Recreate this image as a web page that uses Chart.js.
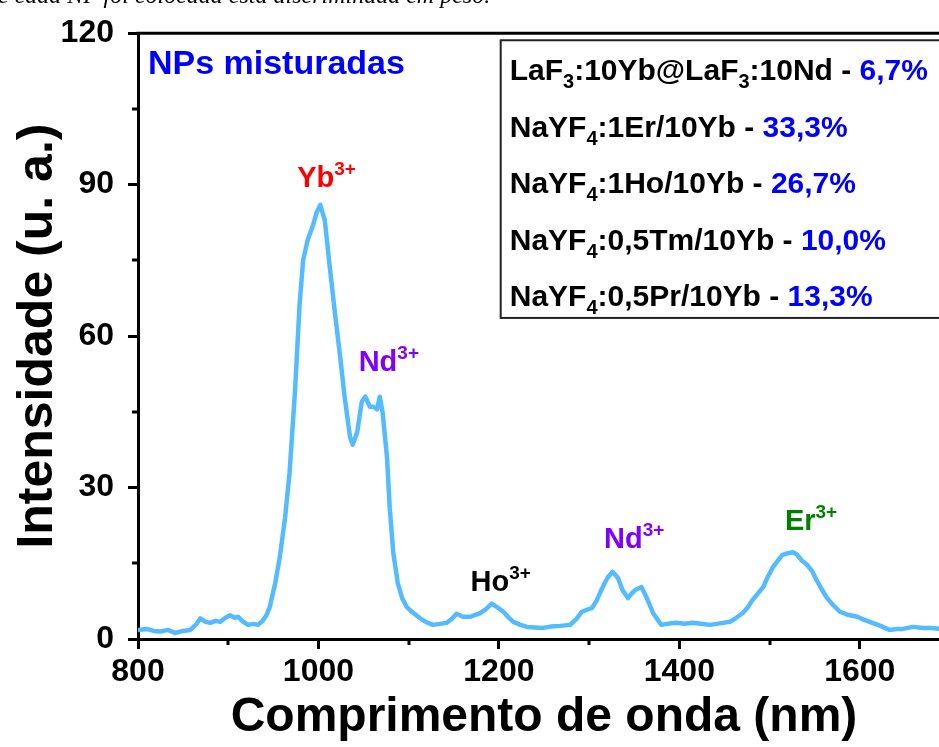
<!DOCTYPE html>
<html><head><meta charset="utf-8">
<script src="https://cdn.jsdelivr.net/npm/chart.js@4.4.1/dist/chart.umd.min.js"></script>
<style>
html,body{margin:0;padding:0;background:#fff;overflow:hidden;width:939px;height:747px;}
#wrap{position:relative;width:960px;height:747px;}
#cap{position:absolute;left:-2px;top:-18px;font:italic 24px "Liberation Serif","Times New Roman",serif;white-space:nowrap;color:#000;}
canvas{position:absolute;left:0;top:0;}
</style></head><body>
<div id="wrap"><canvas id="c" width="960" height="747"></canvas><div id="cap">e cada NP foi colocada está discriminada em peso.</div></div>
<script>
// ---- data ----
const wavelengths = [800,810,817,825,833,841,850,858,865,869,875,880,886,891,897,902,907,911,916,922,928,933,938,942,946,952,957,963,968,974,979,983,988,994,998,1002,1007,1013,1018,1024,1029,1035,1038,1043,1048,1052,1057,1061,1065,1068,1071,1076,1079,1083,1088,1093,1098,1103,1109,1115,1120,1127,1135,1142,1148,1153,1160,1168,1174,1179,1185,1192,1198,1205,1210,1216,1224,1231,1240,1249,1258,1268,1279,1286,1292,1298,1303,1308,1312,1317,1321,1326,1332,1337,1343,1347,1351,1358,1364,1371,1376,1380,1390,1397,1406,1415,1424,1434,1445,1456,1463,1470,1476,1481,1487,1493,1498,1504,1509,1514,1520,1526,1530,1536,1541,1547,1552,1558,1563,1570,1578,1587,1597,1605,1614,1623,1633,1641,1648,1659,1670,1680,1690,1700];
const intensity = [1.8,2.0,1.6,1.5,1.8,1.2,1.6,1.8,3.0,4.1,3.4,3.2,3.6,3.4,4.2,4.7,4.2,4.4,3.5,2.8,3.0,2.8,3.6,4.6,6.3,11,16,24,33,49,66,75,79,82,84.5,86,83,73,65,56,48,40,38.5,41,47,48,46,46,45.5,48,45,36,26,17,11,8,6.3,5.5,4.6,3.8,3.3,2.8,3.0,3.2,4.0,5.0,4.4,4.4,4.8,5.1,5.8,7.0,6.3,5.4,4.4,3.4,2.8,2.4,2.3,2.2,2.5,2.6,2.8,4.0,5.4,5.8,6.1,7.5,9.1,11,12.3,13.3,12.1,9.7,8.1,9.0,9.7,10.3,8.1,5.1,3.8,2.8,3.1,3.2,3.0,3.2,3.0,2.8,3.1,3.4,4.2,5.1,6.3,7.7,9.0,10.3,12.3,14.3,15.5,16.6,17.0,17.2,16.8,15.5,14.8,13.5,11.7,9.8,8.3,6.8,5.4,4.8,4.4,3.8,3.2,2.6,1.8,2.0,2.0,2.4,2.2,2.2,2.0,2.0];
const xMajorTicks = [800,1000,1200,1400,1600];
const xMinorTicks = [900,1100,1300,1500,1700];
const yMajorTicks = [0,30,60,90,120];
const yMinorTicks = [15,45,75,105];
const xTitle = 'Comprimento de onda (nm)';
const yTitle = 'Intensidade (u. a.)';
const panelTitle = 'NPs misturadas';
const peakIons = ['Yb','Nd','Ho','Nd','Er'];
const peakX = [1009,1078,1202,1350,1546];
const peakY = [89.5,53,9.5,18,21.6];
const peakColors = ['#ff0000','#8000ff','#000000','#8000ff','#008000'];
const legendRows = [
  [{t:'LaF'},{t:'3',sub:1},{t:':10Yb@LaF'},{t:'3',sub:1},{t:':10Nd - '},{t:'6,7%',c:'#0000ff'}],
  [{t:'NaYF'},{t:'4',sub:1},{t:':1Er/10Yb - '},{t:'33,3%',c:'#0000ff'}],
  [{t:'NaYF'},{t:'4',sub:1},{t:':1Ho/10Yb - '},{t:'26,7%',c:'#0000ff'}],
  [{t:'NaYF'},{t:'4',sub:1},{t:':0,5Tm/10Yb - '},{t:'10,0%',c:'#0000ff'}],
  [{t:'NaYF'},{t:'4',sub:1},{t:':0,5Pr/10Yb - '},{t:'13,3%',c:'#0000ff'}]
];
const legendRowY = [110.7,99.4,88.3,77,65.9];

const FAM = '"Liberation Sans", Arial, Helvetica, sans-serif';

function fontFor(s, base, small){ return 'bold ' + ((s.sub||s.sup)?small:base) + 'px ' + FAM; }
function richWidth(ctx, segs, base, small){ let w=0; segs.forEach(s=>{ctx.font=fontFor(s,base,small); w+=ctx.measureText(s.t).width;}); return w; }
function drawRich(ctx, segs, x, y, align, base, small){
  let cx = align==='center' ? x - richWidth(ctx,segs,base,small)/2 : x;
  ctx.textBaseline='alphabetic'; ctx.textAlign='left';
  segs.forEach(s=>{
    ctx.font=fontFor(s,base,small); ctx.fillStyle=s.c||'#000';
    const dy = s.sub ? Math.round(base*0.26) : (s.sup ? -Math.round(base*0.4) : 0);
    ctx.fillText(s.t, cx, y+dy);
    cx += ctx.measureText(s.t).width;
  });
}

const deco = {
  id:'deco',
  afterDraw(chart){
    const ctx = chart.ctx, a = chart.chartArea, xs = chart.scales.x, ys = chart.scales.y;
    ctx.save();
    ctx.strokeStyle='#000'; ctx.lineWidth=3;
    ctx.beginPath(); ctx.moveTo(a.left-1.5, a.top); ctx.lineTo(a.right, a.top); ctx.lineTo(a.right, a.bottom); ctx.stroke();
    yMinorTicks.forEach(v=>{ const p=Math.round(ys.getPixelForValue(v)); ctx.beginPath(); ctx.moveTo(a.left, p); ctx.lineTo(a.left-6, p); ctx.stroke(); });
    xMinorTicks.forEach(v=>{ const p=Math.round(xs.getPixelForValue(v)); ctx.beginPath(); ctx.moveTo(p, a.bottom); ctx.lineTo(p, a.bottom+6); ctx.stroke(); });
    const bx = xs.getPixelForValue(1202), by = ys.getPixelForValue(118.6), bb = ys.getPixelForValue(63.6);
    ctx.fillStyle='#fff'; ctx.fillRect(bx, by, a.right-bx, bb-by);
    ctx.lineWidth=2; ctx.strokeStyle='#222';
    ctx.strokeRect(bx, by, a.right-bx+20, bb-by);
    legendRows.forEach((row,i)=>drawRich(ctx,row,xs.getPixelForValue(1212),ys.getPixelForValue(legendRowY[i]),'left',30,20));
    ctx.font='bold 34px '+FAM; ctx.fillStyle='#0000ff'; ctx.textAlign='left'; ctx.textBaseline='alphabetic';
    ctx.fillText(panelTitle, xs.getPixelForValue(811), ys.getPixelForValue(111.9));
    peakIons.forEach((ion,i)=>{
      drawRich(ctx,[{t:ion,c:peakColors[i]},{t:'3+',sup:1,c:peakColors[i]}], xs.getPixelForValue(peakX[i]), ys.getPixelForValue(peakY[i]), 'center',29,19);
    });
    ctx.restore();
  }
};

new Chart(document.getElementById('c'), {
  type:'line',
  data:{ datasets:[{ data: wavelengths.map((w,i)=>({x:w,y:intensity[i]})), borderColor:'#55bbff', borderWidth:4.5, pointRadius:0, tension:0, borderJoinStyle:'round', borderCapStyle:'round', fill:false }]},
  options:{
    responsive:false, animation:false, devicePixelRatio:1,
    layout:{padding:{top:33,right:10,left:0,bottom:0}},
    plugins:{legend:{display:false}, tooltip:{enabled:false}},
    scales:{
      x:{ type:'linear', min:800, max:1700,
        afterFit(s){ s.height=108; },
        afterBuildTicks(s){ s.ticks = xMajorTicks.map(v=>({value:v})); },
        ticks:{ autoSkip:false, maxRotation:0, padding:4, color:'#000', font:{family:FAM,size:32,weight:'bold'}, callback:v=>String(v) },
        grid:{ drawOnChartArea:false, drawTicks:true, tickLength:10, tickWidth:3, tickColor:'#000' },
        border:{ display:true, width:3, color:'#000' },
        title:{ display:true, text:xTitle, color:'#000', font:{family:FAM,size:48,weight:'bold'}, padding:{top:0,bottom:0} }
      },
      y:{ min:0, max:120,
        afterFit(s){ s.width=138; },
        afterBuildTicks(s){ s.ticks = yMajorTicks.map(v=>({value:v})); },
        ticks:{ padding:14, color:'#000', font:{family:FAM,size:32,weight:'bold'}, callback:v=>String(v) },
        grid:{ drawOnChartArea:false, drawTicks:true, tickLength:10, tickWidth:3, tickColor:'#000' },
        border:{ display:true, width:3, color:'#000' },
        title:{ display:true, text:yTitle, color:'#000', font:{family:FAM,size:50,weight:'bold'}, padding:{top:8,bottom:0} }
      }
    }
  },
  plugins:[deco]
});
</script>
</body></html>
